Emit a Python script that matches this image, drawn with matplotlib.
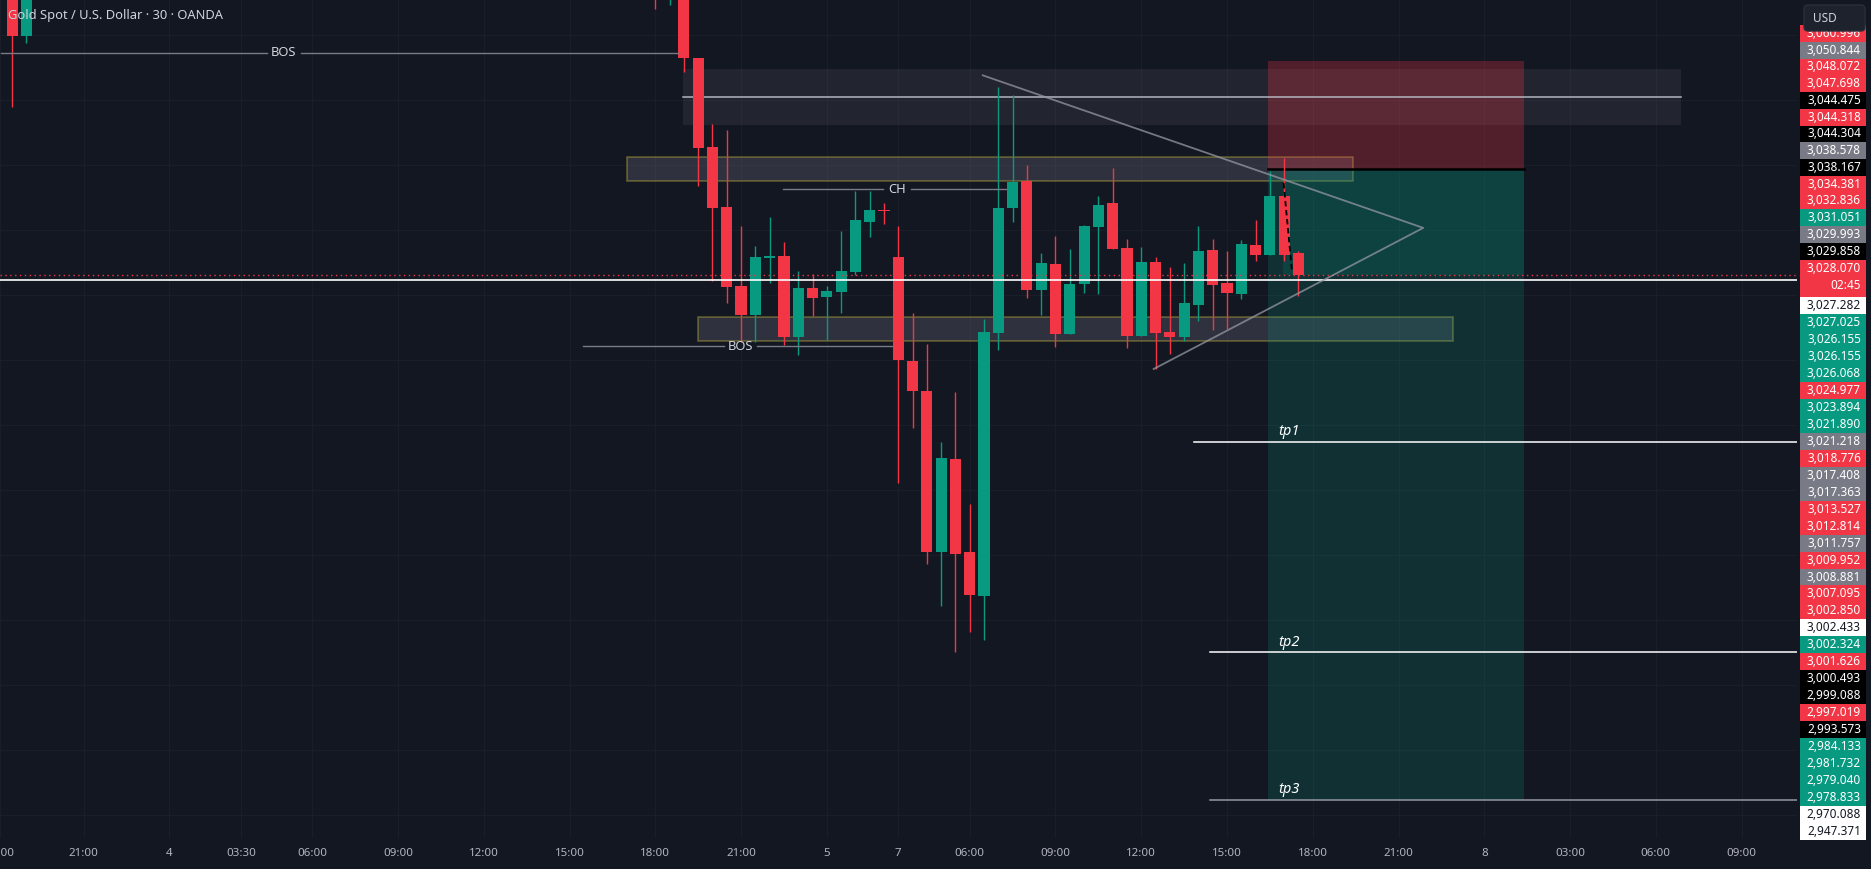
import matplotlib
matplotlib.use("Agg")
import matplotlib.pyplot as plt
from matplotlib.patches import Rectangle, FancyBboxPatch

plt.rcParams['font.family'] = ['Noto Sans', 'DejaVu Sans']

# ---------------- data ----------------
# 30-minute XAUUSD candles, x = bar index (bar 0 = first candle of the sell-off)
bar_idx = [-47, -46, -2, -1] + list(range(0, 44))
opens = [3072.69, 3064.89, 3081.15, 3071.61,
         3071.61, 3061.46, 3047.76, 3038.53, 3026.38, 3021.96, 3030.69, 3030.99,
         3018.58, 3026.07, 3024.73, 3025.50, 3028.58, 3036.27, 3038.07, 3030.84,
         3014.84, 3010.22, 2985.50, 2999.76, 2985.46, 2978.73, 3019.19, 3038.42,
         3042.53, 3025.81, 3029.76, 3019.04, 3026.73, 3035.50, 3039.10, 3032.22,
         3018.73, 3030.07, 3019.30, 3018.58, 3023.45, 3031.92, 3026.84, 3025.15,
         3032.69, 3031.15, 3040.22, 3031.45]
highs = [3074.99, 3073.46, 3084.22, 3081.92,
         3073.46, 3061.46, 3051.30, 3050.38, 3035.61, 3032.53, 3036.99, 3033.15,
         3028.69, 3028.22, 3026.38, 3034.84, 3040.99, 3040.99, 3039.15, 3035.61,
         3022.22, 3017.45, 3002.38, 3010.07, 2992.84, 3021.30, 3056.99, 3055.76,
         3044.99, 3031.45, 3034.07, 3032.07, 3035.76, 3040.22, 3044.53, 3033.61,
         3032.38, 3030.84, 3029.30, 3029.92, 3035.61, 3033.61, 3031.76, 3033.45,
         3036.53, 3044.07, 3046.07, 3031.76]
lows = [3053.92, 3063.81, 3068.99, 3069.61,
        3059.35, 3041.81, 3027.19, 3023.81, 3017.81, 3017.81, 3026.89, 3017.35,
        3015.81, 3021.81, 3018.12, 3022.27, 3028.07, 3033.96, 3035.96, 2996.12,
        3004.58, 2983.66, 2977.19, 2970.12, 2973.19, 2971.96, 3016.58, 3036.27,
        3024.58, 3021.96, 3017.04, 3019.04, 3025.35, 3025.19, 3032.12, 3016.89,
        3018.73, 3013.61, 3015.96, 3017.96, 3021.04, 3019.65, 3019.81, 3024.38,
        3030.22, 3031.15, 3030.22, 3024.84]
closes = [3064.89, 3071.92, 3073.46, 3079.61,
          3061.50, 3047.66, 3038.42, 3026.27, 3021.96, 3030.84, 3030.92, 3018.58,
          3026.07, 3024.58, 3025.61, 3028.69, 3036.53, 3038.07, 3037.84, 3015.04,
          3010.27, 2985.50, 2999.92, 2985.19, 2978.89, 3019.30, 3038.38, 3042.38,
          3025.81, 3029.92, 3019.04, 3026.69, 3035.61, 3038.84, 3032.12, 3018.73,
          3030.07, 3019.15, 3018.58, 3023.76, 3031.76, 3026.53, 3025.30, 3032.84,
          3031.15, 3040.22, 3031.15, 3028.07]

# time axis
time_tick_pos = [-47.85, -42, -36, -31, -26, -20, -14, -8, -2, 4, 10, 15,
                 20, 26, 32, 38, 44, 50, 56, 62, 68, 74]
time_tick_lab = ["18:00", "21:00", "4", "03:30", "06:00", "09:00", "12:00", "15:00",
                 "18:00", "21:00", "5", "7", "06:00", "09:00", "12:00", "15:00",
                 "18:00", "21:00", "8", "03:00", "06:00", "09:00"]

# drawings
bos_price = [3062.27, 3017.10]
bos_from = [-47.8, -7.08]
bos_to = [-0.39, 14.59]
bos_label_at = [-28.0, 3.97]
ch_price, ch_from, ch_to, ch_label_at = 3041.30, 6.9, 22.57, 14.92
supply_box = [-0.09, 69.76, 3051.19, 3059.76]      # x0, x1, low, high
supply_mid = 3055.41
zone_x0 = [-4.01, 0.98]
zone_x1 = [46.83, 53.83]
zone_lo = [3042.49, 3017.87]
zone_hi = [3046.18, 3021.56]
tri_x = [20.91, 51.73, 32.87]
tri_y = [3058.79, 3035.32, 3013.61]
pos_x0, pos_x1 = 40.87, 58.76
pos_stop, pos_entry, pos_target = 3060.996, 3044.304, 2947.371
tp_names = ["tp1", "tp2", "tp3"]
tp_price = [3002.433, 2970.088, 2947.371]
tp_from = [35.71, 36.83, 36.83]
tp_label_at = 41.6
last_price = 3028.070
hline_price = 3027.282

# right price scale labels (top to bottom) and their kinds
axis_labels = ["3,060.996", "3,050.844", "3,048.072", "3,047.698", "3,044.475", "3,044.318",
               "3,044.304", "3,038.578", "3,038.167", "3,034.381", "3,032.836", "3,031.051",
               "3,029.993", "3,029.858", "3,028.070",
               "3,027.282", "3,027.025", "3,026.155", "3,026.155", "3,026.068", "3,024.977",
               "3,023.894", "3,021.890", "3,021.218", "3,018.776", "3,017.408", "3,017.363",
               "3,013.527", "3,012.814", "3,011.757", "3,009.952", "3,008.881", "3,007.095",
               "3,002.850", "3,002.433", "3,002.324", "3,001.626", "3,000.493", "2,999.088",
               "2,997.019", "2,993.573", "2,984.133", "2,981.732", "2,979.040", "2,978.833",
               "2,970.088", "2,947.371"]
axis_kinds = ["r", "g", "r", "r", "k", "r", "k", "g", "k", "r", "r", "t", "g", "k", "r",
              "w", "t", "t", "t", "t", "r", "t", "t", "g", "r", "g", "g", "r", "r", "g", "r",
              "g", "r", "r", "w", "t", "r", "k", "k", "r", "k", "t", "t", "t", "t", "w", "w"]

# ---------------- style ----------------
BG = "#131722"
RED = "#f23645"
TEAL = "#089981"
TXT = "#d1d4dc"
W, H = 1871, 869
PANEL_X = 1797
CHART_BOTTOM = 838
PX_PER_BAR = 14.3
BAR0_PX = 683.3
PX_PER_USD = 6.5
TOP_PRICE = 3070.378

fig = plt.figure(figsize=(W / 100, H / 100), dpi=100, facecolor=BG)
ax = fig.add_axes([0, (H - CHART_BOTTOM) / H, PANEL_X / W, CHART_BOTTOM / H])
ax.set_facecolor(BG)
ax.set_xlim(-BAR0_PX / PX_PER_BAR, (PANEL_X - BAR0_PX) / PX_PER_BAR)
ax.set_ylim(TOP_PRICE - CHART_BOTTOM / PX_PER_USD, TOP_PRICE)
for s in ax.spines.values():
    s.set_visible(False)

# grid
for p in range(2945, 3070, 10):
    ax.axhline(p, color="#1a1e29", lw=0.9, zorder=0)
for t in time_tick_pos:
    ax.axvline(t, color="#1a1e29", lw=0.9, zorder=0)

ax.set_xticks(time_tick_pos, time_tick_lab)
ax.set_yticks([])
ax.tick_params(axis="x", length=0, colors="#b2b5be", labelsize=8.3, pad=7.5)

# boxes
ax.add_patch(Rectangle((supply_box[0], supply_box[2]), supply_box[1] - supply_box[0],
                       supply_box[3] - supply_box[2], fc="#787b86", alpha=0.15, lw=0, zorder=1))
ax.plot([supply_box[0], supply_box[1]], [supply_mid, supply_mid], color="#b2b5be", lw=1.1, zorder=2)
for x0, x1, lo, hi in zip(zone_x0, zone_x1, zone_lo, zone_hi):
    ax.add_patch(Rectangle((x0, lo), x1 - x0, hi - lo, fc=(0.47, 0.48, 0.53, 0.28),
                           ec=(1.0, 0.92, 0.23, 0.3), lw=1.2, zorder=1))

# short position tool
ax.add_patch(Rectangle((pos_x0, pos_entry), pos_x1 - pos_x0, pos_stop - pos_entry,
                       fc=RED, alpha=0.28, lw=0, zorder=1))
ax.add_patch(Rectangle((pos_x0, pos_target), pos_x1 - pos_x0, pos_entry - pos_target,
                       fc=TEAL, alpha=0.2, lw=0, zorder=1))
ax.add_patch(Rectangle((41.9, last_price), pos_x1 - 41.9, pos_entry - last_price,
                       fc=TEAL, alpha=0.18, lw=0, zorder=1))
ax.plot([pos_x0, pos_x1], [pos_entry, pos_entry], color="black", lw=1.8, zorder=2)
ax.plot([41.96, 42.55], [3042.22, 3028.58], color="black", lw=1.3, ls=(0, (3, 2)), zorder=5)

# candles
for i, o, h, l, c in zip(bar_idx, opens, highs, lows, closes):
    col = TEAL if c >= o else RED
    ax.vlines(i, l, h, color=col, lw=1.0, zorder=3)
    lo_b = min(o, c)
    hgt = max(abs(c - o), 0.3)
    ax.bar(i, hgt, bottom=lo_b, width=0.78, color=col, lw=0, zorder=3)

# horizontal price lines
ax.axhline(last_price, color=RED, lw=1.0, ls=(0, (1, 2.5)), zorder=4)
ax.axhline(hline_price, color="white", lw=1.2, zorder=4)

# BOS / CH labels with a gap in the line
for p, a, b, m in zip(bos_price, bos_from, bos_to, bos_label_at):
    ax.plot([a, m - 1.18], [p, p], color="#787b86", lw=1.0, zorder=4)
    ax.plot([m + 1.18, b], [p, p], color="#787b86", lw=1.0, zorder=4)
    ax.text(m, p, "BOS", color=TXT, fontsize=9.3, ha="center", va="center", zorder=6)
ax.plot([ch_from, ch_label_at - 1.0], [ch_price, ch_price], color="#787b86", lw=1.0, zorder=4)
ax.plot([ch_label_at + 1.0, ch_to], [ch_price, ch_price], color="#787b86", lw=1.0, zorder=4)
ax.text(ch_label_at, ch_price, "CH", color=TXT, fontsize=9.3, ha="center", va="center", zorder=6)

# triangle
ax.plot(tri_x, tri_y, color="#9598a1", lw=1.3, alpha=0.75, zorder=4)

# take-profit lines
xr = ax.get_xlim()[1]
for name, p, a in zip(tp_names, tp_price, tp_from):
    col = "#9598a1" if name == "tp3" else "white"
    ax.plot([a, xr], [p, p], color=col, lw=1.1, zorder=4)
    ax.text(tp_label_at, p + 0.35, name, color="white", fontsize=10.5, fontweight="bold",
            fontstyle="italic", ha="left", va="bottom", zorder=6)

# title
fig.text(8 / W, 1 - 16 / H, "Gold Spot / U.S. Dollar \u00b7 30 \u00b7 OANDA", color=TXT,
         fontsize=9.3, ha="left", va="center", zorder=10)

# ---------------- right price scale ----------------
pax = fig.add_axes([PANEL_X / W, 0, (W - PANEL_X) / W, 1])
pax.set_xlim(PANEL_X, W)
pax.set_ylim(H, 0)
pax.axis("off")

fills = {"r": RED, "t": TEAL, "g": "#787b86", "k": "#000000", "w": "#ffffff"}
tops = []
y = 25.0
for j, lab in enumerate(axis_labels):
    if lab == "3,028.070":
        tops.append((259.6, 37.4))
        y = 297.0
    else:
        row_h = 16.75 if y < 259 else 16.97
        tops.append((y, row_h))
        y += row_h
for lab, kind, (top, hgt) in zip(axis_labels, axis_kinds, tops):
    pax.add_patch(Rectangle((1800, top), 66, hgt, fc=fills[kind], lw=0))
    tc = "#131722" if kind == "w" else "white"
    if lab == "3,028.070":
        pax.text(1861, top + 9, lab, color=tc, fontsize=8.5, ha="right", va="center")
        pax.text(1861, top + 26, "02:45", color=tc, fontsize=8.5, ha="right", va="center")
    else:
        pax.text(1861, top + hgt / 2, lab, color=tc, fontsize=8.5, ha="right", va="center")

pax.add_patch(FancyBboxPatch((1804, 5), 61, 26, boxstyle="round,pad=0,rounding_size=4",
                             fc="#1e222d", ec="#2a2e39", lw=1.0, zorder=5))
pax.text(1813, 18, "USD", color=TXT, fontsize=8.5, ha="left", va="center", zorder=6)

fig.savefig("out.png", dpi=100, facecolor=BG)
